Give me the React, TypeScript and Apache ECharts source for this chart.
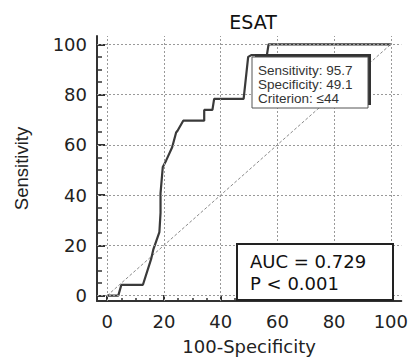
import React, { useEffect, useRef } from "react";
import * as echarts from "echarts";

// ROC curve points (100-Specificity, Sensitivity)
const rocX = [0, 3.9, 5.0, 12.6, 15.5, 16.3, 18.4, 18.8, 18.8, 19.6, 20.8, 22.9, 24.3, 24.8, 26.8, 34.2, 34.2, 37.1, 37.7, 48.1, 49.7, 50.9, 56.3, 56.9, 100];
const rocY = [0, 0, 4.3, 4.3, 14.6, 18.5, 25.3, 32.9, 40.7, 51.2, 53.8, 59.0, 64.9, 65.6, 69.6, 69.6, 73.9, 73.9, 78.3, 78.3, 95.0, 95.7, 95.7, 100, 100];
const diagX = [0, 100];
const diagY = [0, 100];
const xTicks = [0, 20, 40, 60, 80, 100];
const yTicks = [0, 20, 40, 60, 80, 100];
const minorTicks = [5, 10, 15, 25, 30, 35, 45, 50, 55, 65, 70, 75, 85, 90, 95];
const titleText = "ESAT";
const xName = "100-Specificity";
const yName = "Sensitivity";
const infoLines = ["Sensitivity: 95.7", "Specificity: 49.1", "Criterion: \u226444"];
const aucLines = ["AUC = 0.729", "P < 0.001"];

const WIDE = "DejaVu Sans";
const ARIAL = "Liberation Sans, Arial, sans-serif";

export default function App() {
  const ref = useRef<HTMLDivElement>(null);
  useEffect(() => {
    if (!ref.current) return;
    const chart = echarts.init(ref.current, null, { renderer: "svg" });
    const roc = rocX.map((x, i) => [x, rocY[i]]);
    const diag = diagX.map((x, i) => [x, diagY[i]]);
    const gridMarks = [
      ...xTicks.map((v) => ({ xAxis: v })),
      ...yTicks.map((v) => ({ yAxis: v })),
    ];
    const labelStyle = { fontFamily: WIDE, fontSize: 18, color: "#222" };
    const xMin = -3.6, xMax = 103.7, yMin = -2.15, yMax = 103.3;
    chart.setOption({
      animation: false,
      backgroundColor: "#fff",
      title: {
        text: titleText,
        left: 248,
        top: 7,
        textAlign: "center",
        textStyle: { fontFamily: WIDE, fontSize: 19, fontWeight: "normal", color: "#111" },
      },
      grid: { left: 97, right: 7, top: 36, bottom: 54, containLabel: false },
      xAxis: [
        {
          type: "value",
          min: xMin,
          max: xMax,
          name: xName,
          nameLocation: "middle",
          nameGap: 36,
          nameTextStyle: { fontFamily: WIDE, fontSize: 18, color: "#222" },
          axisLine: { show: true, onZero: false, lineStyle: { color: "#333", width: 2 } },
          axisTick: { show: true, inside: true, length: 6, customValues: xTicks, lineStyle: { color: "#333", width: 2 } },
          axisLabel: { show: true, customValues: xTicks, margin: 11, ...labelStyle },
          splitLine: { show: false },
        },
        {
          type: "value",
          min: xMin,
          max: xMax,
          position: "bottom",
          axisLine: { show: false, onZero: false },
          axisTick: { show: true, inside: true, length: 3, customValues: minorTicks, lineStyle: { color: "#333", width: 1.5 } },
          axisLabel: { show: false },
          splitLine: { show: false },
        },
      ],
      yAxis: [
        {
          type: "value",
          min: yMin,
          max: yMax,
          name: yName,
          nameLocation: "middle",
          nameGap: 66,
          nameRotate: 90,
          nameTextStyle: { fontFamily: ARIAL, fontSize: 18.5, color: "#222" },
          axisLine: { show: true, onZero: false, lineStyle: { color: "#333", width: 2 } },
          axisTick: { show: true, inside: true, length: 8, customValues: yTicks, lineStyle: { color: "#333", width: 2 } },
          axisLabel: { show: true, customValues: yTicks, margin: 10, ...labelStyle },
          splitLine: { show: false },
        },
        {
          type: "value",
          min: yMin,
          max: yMax,
          position: "left",
          axisLine: { show: false, onZero: false },
          axisTick: { show: true, inside: true, length: 5, customValues: minorTicks, lineStyle: { color: "#333", width: 1.5 } },
          axisLabel: { show: false },
          splitLine: { show: false },
        },
      ],
      series: [
        {
          type: "line",
          name: "diagonal",
          data: diag,
          xAxisIndex: 0,
          yAxisIndex: 0,
          showSymbol: false,
          symbol: "none",
          lineStyle: { color: "#8a8a8a", width: 1, type: [3, 2] },
          markLine: {
            silent: true,
            symbol: "none",
            label: { show: false },
            lineStyle: { color: "#999", width: 1, type: [2, 2] },
            data: gridMarks,
          },
          z: 2,
        },
        {
          type: "line",
          name: "ROC",
          data: roc,
          xAxisIndex: 0,
          yAxisIndex: 0,
          showSymbol: false,
          symbol: "none",
          lineStyle: { color: "#3a3a3a", width: 2.2 },
          z: 3,
        },
      ],
      graphic: [
        { type: "rect", z: 50, shape: { x: 255, y: 54, width: 116, height: 51 }, style: { fill: "#333" } },
        { type: "rect", z: 51, shape: { x: 252, y: 57, width: 116, height: 51 }, style: { fill: "#fff", stroke: "#555", lineWidth: 1 } },
        ...infoLines.map((t, i) => ({
          type: "text",
          z: 52,
          x: 258,
          y: 70 + i * 14,
          style: { text: t, font: `13.5px ${ARIAL}`, lineHeight: 13, fill: "#333", verticalAlign: "middle", align: "left" },
        })),
        { type: "rect", z: 50, shape: { x: 237, y: 244, width: 156, height: 56 }, style: { fill: "#fff", stroke: "#222", lineWidth: 2 } },
        ...aucLines.map((t, i) => ({
          type: "text",
          z: 52,
          x: 250,
          y: 261 + i * 22,
          style: { text: t, font: `18px ${WIDE}`, fill: "#111", verticalAlign: "middle", align: "left" },
        })),
      ],
    });
    return () => chart.dispose();
  }, []);
  return <div ref={ref} style={{ position: "fixed", left: 0, top: 0, width: 411, height: 360 }} />;
}
